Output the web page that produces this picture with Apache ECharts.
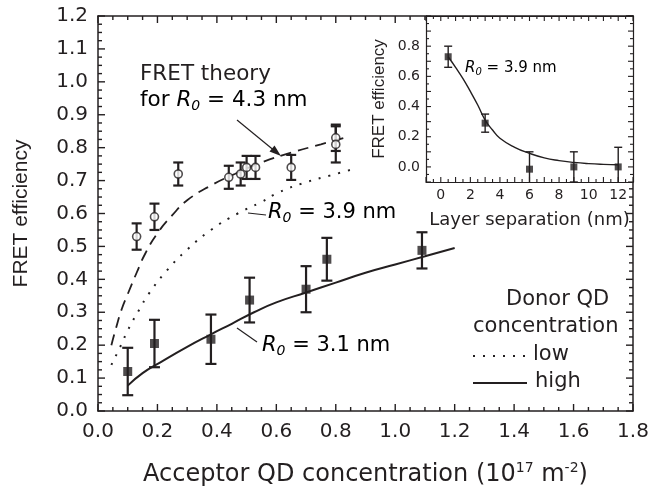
<!DOCTYPE html>
<html>
<head>
<meta charset="utf-8">
<script src="https://cdn.jsdelivr.net/npm/echarts@6/dist/echarts.min.js"></script>
<style>
  html, body { margin: 0; padding: 0; background: #fff; }
  #chart { width: 653px; height: 493px; }
</style>
</head>
<body>
<div id="chart"></div>
<script>
// low donor concentration (open circles)
const lowX = [0.13, 0.19, 0.27, 0.44, 0.48, 0.50, 0.53, 0.65, 0.80, 0.80]
const lowY = [0.53, 0.59, 0.72, 0.71, 0.72, 0.74, 0.74, 0.74, 0.83, 0.81]
const lowErr = [0.04, 0.04, 0.035, 0.035, 0.035, 0.035, 0.035, 0.038, 0.04, 0.055]

// high donor concentration (filled squares)
const highX = [0.10, 0.19, 0.38, 0.51, 0.70, 0.77, 1.09]
const highY = [0.12, 0.205, 0.218, 0.337, 0.37, 0.461, 0.488]
const highErr = [0.072, 0.072, 0.075, 0.068, 0.07, 0.065, 0.055]

// theory curves
const r43X = [0.045, 0.06, 0.08, 0.10, 0.13, 0.16, 0.20, 0.25, 0.30, 0.38, 0.46, 0.55, 0.65, 0.75, 0.83]
const r43Y = [0.20, 0.25, 0.31, 0.355, 0.42, 0.48, 0.54, 0.595, 0.64, 0.685, 0.72, 0.755, 0.785, 0.81, 0.83]
const r39X = [0.045, 0.08, 0.10, 0.14, 0.17, 0.23, 0.30, 0.38, 0.47, 0.55, 0.61, 0.70, 0.78, 0.86]
const r39Y = [0.14, 0.205, 0.245, 0.31, 0.355, 0.425, 0.49, 0.55, 0.60, 0.635, 0.665, 0.695, 0.715, 0.735]
const r31X = [0.10, 0.15, 0.21, 0.30, 0.38, 0.45, 0.525, 0.60, 0.70, 0.80, 0.90, 1.00, 1.10, 1.20]
const r31Y = [0.077, 0.115, 0.148, 0.195, 0.233, 0.265, 0.30, 0.33, 0.36, 0.39, 0.42, 0.445, 0.47, 0.495]

// inset: layer separation
const sepX = [0.5, 3, 6, 9, 12]
const sepY = [0.73, 0.29, -0.015, 0.0, 0.0]
const sepErr = [0.07, 0.06, 0.115, 0.1, 0.13]
const fitX = [0.5, 1, 1.5, 2, 2.5, 3, 3.5, 4, 5, 6, 7, 8, 9, 10, 11, 12]
const fitY = [0.73, 0.66, 0.585, 0.5, 0.41, 0.31, 0.245, 0.19, 0.13, 0.09, 0.06, 0.042, 0.03, 0.022, 0.017, 0.014]

const WIDE = 'DejaVu Sans, Verdana, sans-serif'
const FONT = 'Liberation Sans, Arial, sans-serif'
const INK = '#231f20'

const MAIN = { left: 98, top: 16, width: 535, height: 395 }
const INSET = { left: 426, top: 16, width: 207, height: 166 }

const zip = (xs, ys) => xs.map((x, i) => [x, ys[i]])
const zip3 = (xs, ys, es) => xs.map((x, i) => [x, ys[i], es[i]])

const errRender = (cap, lw) => (params, api) => {
  const x = api.value(0), y = api.value(1), e = api.value(2)
  const cs = params.coordSys
  const top = api.coord([x, y + e])
  const bot = api.coord([x, y - e])
  const yTop = Math.max(top[1], cs.y)
  const yBot = Math.min(bot[1], cs.y + cs.height)
  const style = { stroke: INK, lineWidth: lw }
  const kids = [{ type: 'line', shape: { x1: top[0], y1: yTop, x2: top[0], y2: yBot }, style }]
  if (top[1] >= cs.y) kids.push({ type: 'line', shape: { x1: top[0] - cap, y1: top[1], x2: top[0] + cap, y2: top[1] }, style })
  if (bot[1] <= cs.y + cs.height) kids.push({ type: 'line', shape: { x1: bot[0] - cap, y1: bot[1], x2: bot[0] + cap, y2: bot[1] }, style })
  return { type: 'group', children: kids }
}

// frame ticks pointing inwards on all four sides (axisTick.inside is not drawn by this build).
// items: [value, major(1)/minor(0), dim(0 = x, 1 = y)], placed with the axes' own scales
const tickItems = (xr, yr) => {
  const out = []
  const walk = ([min, max, minor, major], dim) => {
    const n = Math.round((max - min) / minor)
    for (let i = 0; i <= n; i++) {
      const v = +(min + i * minor).toFixed(4)
      const k = v / major
      out.push([v, Math.abs(k - Math.round(k)) < 1e-6 ? 1 : 0, dim])
    }
  }
  walk(xr, 0)
  walk(yr, 1)
  return out
}
const tickRender = (majorLen, minorLen, lw, ref) => (params, api) => {
  const v = api.value(0), len = api.value(1) ? majorLen : minorLen
  const cs = params.coordSys
  const style = { stroke: INK, lineWidth: lw }
  if (api.value(2) === 0) {
    const x = api.coord([v, ref[1]])[0]
    const b = cs.y + cs.height, t = cs.y
    return { type: 'group', children: [
      { type: 'line', shape: { x1: x, y1: b, x2: x, y2: b - len }, style },
      { type: 'line', shape: { x1: x, y1: t, x2: x, y2: t + len }, style }
    ] }
  }
  const y = api.coord([ref[0], v])[1]
  const l = cs.x, r = cs.x + cs.width
  return { type: 'group', children: [
    { type: 'line', shape: { x1: l, y1: y, x2: l + len, y2: y }, style },
    { type: 'line', shape: { x1: r, y1: y, x2: r - len, y2: y }, style }
  ] }
}

const r0Rich = (size) => ({
  i: { fontFamily: WIDE, fontStyle: 'italic', fontSize: size, color: INK },
  s: { fontFamily: WIDE, fontStyle: 'italic', fontSize: Math.round(size * 0.65), color: INK, padding: [Math.round(size * 0.55), 0, 0, 0] },
  n: { fontFamily: WIDE, fontSize: size, color: INK }
})

const line = (lw) => ({ show: true, onZero: false, lineStyle: { color: INK, width: lw } })
const plain = { axisTick: { show: false }, splitLine: { show: false } }

const xAxes = [
  Object.assign({
    gridIndex: 0, type: 'value', position: 'bottom', min: 0, max: 1.8, interval: 0.2, axisLine: line(1.5),
    axisLabel: { fontFamily: WIDE, fontSize: 20, color: INK, margin: 11, formatter: v => v.toFixed(1) },
    name: 'Acceptor QD concentration (10{sup|17} m{sup|-2})', nameLocation: 'middle', nameGap: 50,
    nameTextStyle: { fontFamily: WIDE, fontSize: 24, color: INK, rich: { sup: { fontFamily: WIDE, fontSize: 14, color: INK, padding: [0, 0, 13, 0] } } }
  }, plain),
  Object.assign({ gridIndex: 0, type: 'value', position: 'top', min: 0, max: 1.8, axisLine: line(1.5), axisLabel: { show: false } }, plain),
  Object.assign({
    gridIndex: 1, type: 'value', position: 'bottom', min: -1, max: 13, interval: 1, z: 6, axisLine: line(1.2),
    axisLabel: { fontFamily: WIDE, fontSize: 14, color: INK, margin: 6, formatter: v => (v >= 0 && v % 2 === 0 ? String(v) : '') },
    name: 'Layer separation (nm)', nameLocation: 'middle', nameGap: 29,
    nameTextStyle: { fontFamily: WIDE, fontSize: 18, color: INK }
  }, plain),
  Object.assign({ gridIndex: 1, type: 'value', position: 'top', min: -1, max: 13, z: 6, axisLine: line(1.2), axisLabel: { show: false } }, plain)
]

const yAxes = [
  Object.assign({
    gridIndex: 0, type: 'value', position: 'left', min: 0, max: 1.2, interval: 0.1, axisLine: line(1.5),
    axisLabel: { fontFamily: WIDE, fontSize: 20, color: INK, margin: 10, formatter: v => v.toFixed(1) },
    name: 'FRET efficiency', nameLocation: 'middle', nameGap: 66,
    nameTextStyle: { fontFamily: FONT, fontSize: 21, color: INK }
  }, plain),
  Object.assign({ gridIndex: 0, type: 'value', position: 'right', min: 0, max: 1.2, axisLine: line(1.5), axisLabel: { show: false } }, plain),
  Object.assign({
    gridIndex: 1, type: 'value', position: 'left', min: -0.1, max: 1.0, interval: 0.1, z: 6, axisLine: line(1.2),
    axisLabel: {
      fontFamily: WIDE, fontSize: 14, color: INK, margin: 6,
      formatter: v => { const k = Math.round(v * 10); return k >= 0 && k <= 8 && k % 2 === 0 ? v.toFixed(1) : '' }
    },
    name: 'FRET efficiency', nameLocation: 'middle', nameGap: 38,
    nameTextStyle: { fontFamily: FONT, fontSize: 17, color: INK }
  }, plain),
  Object.assign({ gridIndex: 1, type: 'value', position: 'right', min: -0.1, max: 1.0, z: 6, axisLine: line(1.2), axisLabel: { show: false } }, plain)
]

const chart = echarts.init(document.getElementById('chart'), null, { renderer: 'canvas' })

chart.setOption({
  animation: false,
  backgroundColor: '#fff',
  textStyle: { fontFamily: WIDE },
  grid: [
    MAIN,
    Object.assign({ show: true, backgroundColor: '#fff', borderWidth: 0, z: 5 }, INSET)
  ],
  xAxis: xAxes,
  yAxis: yAxes,
  series: [
    {
      type: 'custom', xAxisIndex: 0, yAxisIndex: 0, z: 1, silent: true,
      data: tickItems([0, 1.8, 0.05, 0.2], [0, 1.2, 0.025, 0.1]),
      renderItem: tickRender(7, 4, 1.4, [0, 0])
    },
    {
      name: 'R0 = 4.3 nm', type: 'line', xAxisIndex: 0, yAxisIndex: 0, data: zip(r43X, r43Y),
      smooth: true, showSymbol: false, lineStyle: { color: INK, width: 1.8, type: [11, 7] }
    },
    {
      name: 'low', type: 'line', xAxisIndex: 0, yAxisIndex: 0, data: zip(r39X, r39Y),
      smooth: true, showSymbol: false, lineStyle: { color: INK, width: 2, type: [2, 8] }
    },
    {
      name: 'high', type: 'line', xAxisIndex: 0, yAxisIndex: 0, data: zip(r31X, r31Y),
      smooth: true, showSymbol: false, lineStyle: { color: INK, width: 2 }
    },
    {
      type: 'custom', xAxisIndex: 0, yAxisIndex: 0, data: zip3(lowX, lowY, lowErr),
      renderItem: errRender(5, 2.2), z: 3
    },
    {
      type: 'custom', xAxisIndex: 0, yAxisIndex: 0, data: zip3(highX, highY, highErr),
      renderItem: errRender(5.5, 2.2), z: 3
    },
    {
      type: 'scatter', xAxisIndex: 0, yAxisIndex: 0, data: zip(lowX, lowY), z: 4,
      symbol: 'circle', symbolSize: 8, itemStyle: { color: '#fff', borderColor: INK, borderWidth: 1.6 }
    },
    {
      type: 'scatter', xAxisIndex: 0, yAxisIndex: 0, data: zip(highX, highY), z: 4,
      symbol: 'rect', symbolSize: 9, itemStyle: { color: INK }
    },
    {
      type: 'custom', xAxisIndex: 2, yAxisIndex: 2, z: 7, silent: true,
      data: tickItems([-1, 13, 0.5, 1], [-0.1, 1.0, 0.05, 0.1]),
      renderItem: tickRender(5, 3, 1.1, [0, 0])
    },
    {
      type: 'line', xAxisIndex: 2, yAxisIndex: 2, data: zip(fitX, fitY), z: 7,
      smooth: true, showSymbol: false, lineStyle: { color: INK, width: 1.4 }
    },
    {
      type: 'custom', xAxisIndex: 2, yAxisIndex: 2, data: zip3(sepX, sepY, sepErr),
      renderItem: errRender(4, 1.4), z: 8
    },
    {
      type: 'scatter', xAxisIndex: 2, yAxisIndex: 2, data: zip(sepX, sepY), z: 9,
      symbol: 'rect', symbolSize: 7, itemStyle: { color: INK }
    }
  ],
  graphic: [
    { type: 'text', left: 140, top: 63, z: 20, style: { text: 'FRET theory', fontFamily: WIDE, fontSize: 21.5, fill: INK } },
    { type: 'text', left: 140, top: 89, z: 20, style: { text: '{n|for }{i|R}{s|0}{n| = 4.3 nm}', rich: r0Rich(21.5) } },
    { type: 'line', z: 20, shape: { x1: 237, y1: 120, x2: 276, y2: 152 }, style: { stroke: INK, lineWidth: 1.2 } },
    { type: 'polygon', z: 20, shape: { points: [[281, 156], [269.5, 151.5], [274.5, 145.5]] }, style: { fill: INK } },
    { type: 'line', z: 20, shape: { x1: 248, y1: 213, x2: 266, y2: 215 }, style: { stroke: INK, lineWidth: 1.2 } },
    { type: 'text', left: 268, top: 202, z: 20, style: { text: '{i|R}{s|0}{n| = 3.9 nm}', rich: r0Rich(21) } },
    { type: 'line', z: 20, shape: { x1: 237, y1: 328, x2: 257, y2: 342 }, style: { stroke: INK, lineWidth: 1.2 } },
    { type: 'text', left: 262, top: 335, z: 20, style: { text: '{i|R}{s|0}{n| = 3.1 nm}', rich: r0Rich(21) } },
    { type: 'text', left: 465, top: 61, z: 20, style: { text: '{i|R}{s|0}{n| = 3.9 nm}', rich: r0Rich(15) } },
    { type: 'text', left: 506, top: 289, z: 20, style: { text: 'Donor QD', fontFamily: WIDE, fontSize: 21, fill: INK } },
    { type: 'text', left: 473, top: 316, z: 20, style: { text: 'concentration', fontFamily: WIDE, fontSize: 21, fill: INK } },
    { type: 'line', z: 20, shape: { x1: 473, y1: 356, x2: 526, y2: 356 }, style: { stroke: INK, lineWidth: 2, lineDash: [2, 8] } },
    { type: 'text', left: 533, top: 344, z: 20, style: { text: 'low', fontFamily: WIDE, fontSize: 21, fill: INK } },
    { type: 'line', z: 20, shape: { x1: 473, y1: 383, x2: 527, y2: 383 }, style: { stroke: INK, lineWidth: 2 } },
    { type: 'text', left: 535, top: 371, z: 20, style: { text: 'high', fontFamily: WIDE, fontSize: 21, fill: INK } }
  ]
})
</script>
</body>
</html>
